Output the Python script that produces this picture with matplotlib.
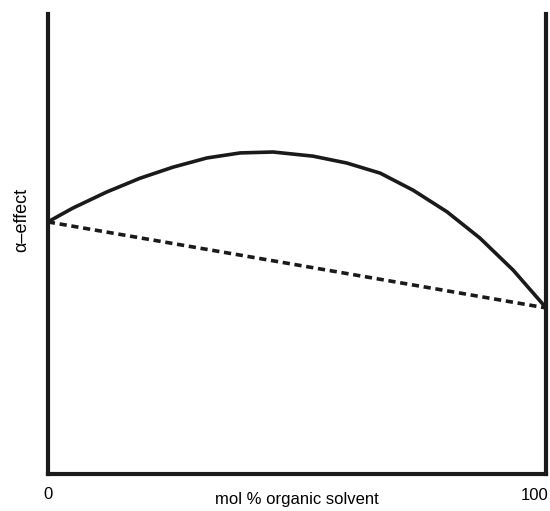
import matplotlib.pyplot as plt

plt.rcParams['font.family'] = ['Liberation Sans', 'DejaVu Sans']

# solvent composition (mol %) and alpha-effect (arbitrary units)
mol_pct = [0, 5.0, 11.8, 18.5, 25.1, 31.9, 38.6, 45.2, 53.2, 60.0, 66.7, 73.3, 80.1, 86.7, 93.4, 100]
alpha = [54.8, 57.8, 61.3, 64.3, 66.7, 68.7, 69.8, 70.0, 69.1, 67.6, 65.4, 61.7, 57.0, 51.3, 44.3, 36.1]
ideal_x = [0, 100]
ideal_y = [54.8, 36.1]

fig = plt.figure(figsize=(5.5, 5.11), dpi=100)
ax = fig.add_axes([0.087, 0.0724, 0.906, 0.9002])

ax.plot(mol_pct, alpha, color='#1a1a1a', lw=2.6, solid_joinstyle='round')
ax.plot(ideal_x, ideal_y, color='#1a1a1a', lw=2.6, dashes=(2, 1.3))

ax.set_xlim(0, 100)
ax.set_ylim(0, 100)
for side in ['left', 'right', 'bottom']:
    ax.spines[side].set_linewidth(3.0)
    ax.spines[side].set_color('#1a1a1a')
ax.spines['top'].set_visible(False)
ax.set_xticks([])
ax.set_yticks([])

ax.text(0, -0.028, '0', transform=ax.transAxes, ha='center', va='top', fontsize=12)
fig.text(549 / 550, 1 - 488 / 511, '100', ha='right', va='top', fontsize=12)
ax.text(0.5, -0.04, 'mol % organic solvent', transform=ax.transAxes, ha='center', va='top', fontsize=12)
fig.text(0.04, 1 - 220 / 511, 'α–effect', rotation=90, ha='center', va='center', fontsize=13)

fig.savefig('out.png', dpi=100)
